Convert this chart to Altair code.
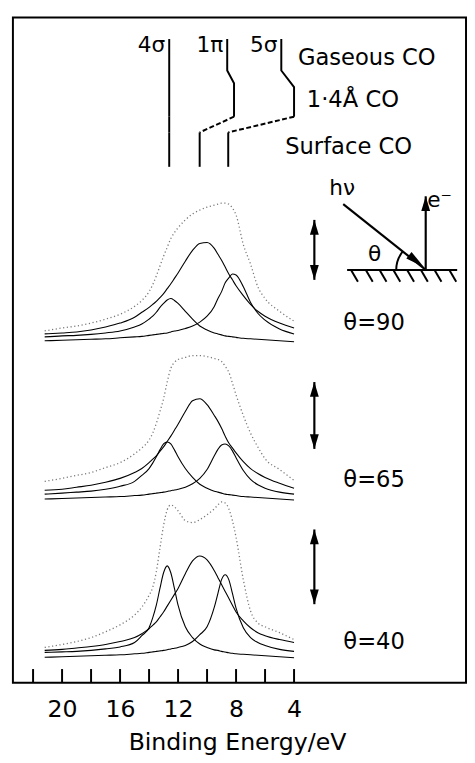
import altair as alt
import pandas as pd

FONT = "DejaVu Sans"

# ---------------- data ----------------
energy = [21.2, 20, 19, 18, 17, 16, 15, 14.5, 14,
          13.75, 13.5, 13.25, 13, 12.75, 12.5, 12.25, 12,
          11.5, 11, 10.5, 10, 9.5,
          9.25, 9, 8.75, 8.5, 8.25, 8,
          7.5, 7, 6.5, 6, 5, 4]

# theta = 90  (heights above the panel baseline)
exp_90 = [12, 15, 17, 20, 24, 29, 37, 43, 52, 59, 68, 78, 88, 97, 106, 112, 117,
          125, 131, 135, 138, 140, 141, 142, 142, 141, 137, 130, 100, 80, 57, 45, 32, 22]
s4_90 = [6, 7, 7.5, 8.5, 10, 12, 16, 19, 24, 27, 31, 36, 40, 43.5, 45, 43, 40,
         32, 24, 17, 13, 10, 9, 8, 7, 6.5, 6, 5.5, 4.5, 4, 3.5, 3, 2, 1]
p1_90 = [9, 10, 11, 13, 16, 20, 26, 31, 36, 39, 42, 46, 50, 55, 60, 65.5, 71,
         83, 94, 101, 102, 96, 90, 84, 77, 70, 64, 58, 48, 39, 32, 27, 20, 15]
s5_90 = [2, 2.5, 3, 3.5, 4, 5, 6, 6.5, 7.5, 8, 8.5, 9, 9.5, 10, 11, 12, 12.5,
         14.5, 17, 21, 27, 37, 45, 52, 61, 66, 70, 69, 57, 41, 30, 23, 14, 9]

# theta = 65
exp_65 = [19, 22, 25, 28, 33, 38, 47, 53, 61, 68, 78, 90, 103, 120, 134, 140, 143,
          145, 147, 147, 146, 144, 143, 141, 136, 130, 119, 107, 86, 68, 54, 42, 31, 20]
s4_65 = [6, 7, 8, 9, 11, 14, 19, 25, 32, 37.5, 44, 51, 57, 59, 57, 51, 44,
         32, 23, 16, 12, 9, 8, 7, 6, 5.5, 5, 4.5, 3.5, 3, 2.5, 2, 1, 0]
p1_65 = [10, 11, 13, 15, 18, 22, 28, 32, 38, 41.5, 45, 49.5, 54, 59.5, 65, 71, 77,
         90, 101, 103, 97, 86, 80, 73, 65, 58, 53, 48, 39, 32, 27, 23, 17, 12]
s5_65 = [1, 1.5, 2, 2.5, 3, 3.5, 4.5, 5, 6, 6.5, 7, 7.5, 8, 8.7, 9.5, 10.2, 11,
         13, 16.5, 22, 31, 45, 51.5, 56, 57, 55, 50, 43, 30, 21, 15.5, 12, 8, 6]

# theta = 40
exp_40 = [11, 14, 17, 21, 27, 34, 44, 52, 64, 72, 88, 112, 135, 151, 156, 154, 150,
          140, 138, 141, 146, 152, 156, 159, 158, 152, 140, 123, 80, 48, 36, 32, 26, 19]
s4_40 = [6, 6.5, 7, 8, 9.5, 11.5, 16, 23, 31, 41, 54, 71, 87, 94, 87, 71, 54,
         32, 21, 14.5, 11, 8.5, 8, 7, 6.3, 5.5, 5, 4.5, 4, 3.5, 3, 2.5, 1.5, 0.5]
p1_40 = [8, 9, 10.5, 12, 14, 17, 21, 25, 30, 33.5, 37, 42, 47, 53, 59, 65, 71,
         86, 99, 104, 100, 89, 82, 75, 68, 61, 54, 47, 38, 31, 26, 23, 19, 16]
s5_40 = [1, 1.5, 2, 2.5, 3, 3.5, 4.5, 5, 6, 6.5, 7, 7.5, 8, 8.7, 9.5, 10.2, 11,
         13, 17, 24, 32, 52, 66, 80, 85, 80, 66, 51, 31, 21, 16, 13, 9, 7]

panels = ["θ=90", "θ=65", "θ=40"]
fit_names = ["4σ", "1π", "5σ"]

# orbital energies (eV) in the level diagram
orbitals = ["4σ", "1π", "5σ"]
gas_E = [12.61, 8.61, 4.88]
mid_E = [12.61, 8.14, 4.00]
surf_E = [12.61, 10.51, 8.54]
row_labels = ["Gaseous CO", "1·4Å CO", "Surface CO"]

tick_E = [22, 20, 18, 16, 14, 12, 10, 8, 6, 4]
label_E = [20, 16, 12, 8, 4]

# ---------------- layout (plot units: 0 = bottom, 677 = top) ----------------
baselines = [346, 186, 25]
GAS_TOP, GAS_BOT = 655, 623
MID_TOP = [610, 610, 606]
MID_BOT = 576
SURF_TOP, SURF_BOT = 560, 525
ROW_E = [3.73, 3.12, 4.61]
ROW_Y = [636, 593, 545]
THETA_E = 0.6
THETA_Y = [366, 206, 41]
DARROW_E = 2.6
DARROW_Y = [(471, 410), (306, 238), (156, 80)]

# ---------------- tables ----------------
exp_sets = [exp_90, exp_65, exp_40]
fit_sets = [[s4_90, p1_90, s5_90], [s4_65, p1_65, s5_65], [s4_40, p1_40, s5_40]]
exp_rows, fit_rows = [], []
for p, base, ex, fits in zip(panels, baselines, exp_sets, fit_sets):
    for e, v in zip(energy, ex):
        exp_rows.append({"panel": p, "E": e, "y": base + v})
    for name, f in zip(fit_names, fits):
        for e, v in zip(energy, f):
            fit_rows.append({"curve": p + name, "E": e, "y": base + v})
exp_df = pd.DataFrame(exp_rows)
fit_df = pd.DataFrame(fit_rows)

solid_rows, dash_rows = [], []
for i, orb in enumerate(orbitals):
    pts = [(gas_E[i], GAS_TOP), (gas_E[i], GAS_BOT), (mid_E[i], MID_TOP[i]), (mid_E[i], MID_BOT)]
    for k, (e, y) in enumerate(pts):
        solid_rows.append({"path": orb + "a", "o": k, "E": e, "y": y})
    for k, (e, y) in enumerate([(surf_E[i], SURF_TOP), (surf_E[i], SURF_BOT)]):
        solid_rows.append({"path": orb + "b", "o": k, "E": e, "y": y})
    conn = [(mid_E[i], MID_BOT), (surf_E[i], SURF_TOP)]
    target = solid_rows if mid_E[i] == surf_E[i] else dash_rows
    for k, (e, y) in enumerate(conn):
        target.append({"path": orb + "c", "o": k, "E": e, "y": y})
solid_df = pd.DataFrame(solid_rows)
dash_df = pd.DataFrame(dash_rows)

orb_lab_df = pd.DataFrame({"E": gas_E, "y": [649] * 3, "t": orbitals})
row_lab_df = pd.DataFrame({"E": ROW_E, "y": ROW_Y, "t": row_labels})
theta_df = pd.DataFrame({"E": [THETA_E] * 3, "y": THETA_Y, "t": panels})
geo_txt_df = pd.DataFrame({"E": [0.68, -6.03, -1.56], "y": [503, 491, 436], "t": ["hν", "e⁻", "θ"]})

tick_df = pd.DataFrame({"E": tick_E, "y": [0] * len(tick_E), "y2": [14] * len(tick_E)})

# geometry sketch (photon, electron, surface)
geo_seg = pd.DataFrame({
    "E": [0.61, -5.08, 0.34], "E2": [-5.02, -5.08, -7.25],
    "y": [487, 421, 420], "y2": [421, 495, 420]})
hatch_top = [0.07, -0.95, -1.90, -2.85, -3.80, -4.75, -5.69, -6.71]
hatch_df = pd.DataFrame({"E": hatch_top, "E2": [h - 0.475 for h in hatch_top],
                         "y": [420] * 8, "y2": [408] * 8})
darrow_df = pd.DataFrame({"E": [DARROW_E] * 3, "y": [a for a, b in DARROW_Y], "y2": [b for a, b in DARROW_Y]})
head_df = pd.DataFrame({
    "E": [-5.08] + [DARROW_E] * 6,
    "y": [495] + [v for ab in DARROW_Y for v in ab],
    "ang": [270] + [270, 90] * 3})
hv_head_df = pd.DataFrame({"E": [-4.95], "y": [423], "ang": [38.5]})
arc_df = pd.DataFrame({"E": [-5.08], "y": [420]})

# ---------------- encodings ----------------
xs = alt.Scale(domain=[-7.86, 23.39], reverse=True, nice=False, zero=False)
ys = alt.Scale(domain=[0, 677], nice=False, zero=False)
xaxis = alt.Axis(values=label_E, format="d", labelFont=FONT, labelFontSize=24, labelColor="black",
                 labelPadding=34, labelBaseline="alphabetic", ticks=False, tickSize=0, domain=False,
                 grid=False, labelFlush=False, labelOverlap=False,
                 titleFont=FONT, titleFontSize=24, titleFontWeight="normal", titleColor="black",
                 titleX=228, titleY=68, titleBaseline="alphabetic", titleAlign="center")
X = alt.X("E:Q", scale=xs, axis=xaxis, title="Binding Energy/eV")
Y = alt.Y("y:Q", scale=ys, axis=None)

layers = []
layers.append(alt.Chart(exp_df).mark_line(color="#777777", strokeWidth=1.3, strokeDash=[1.2, 2.6],
                                          interpolate="monotone").encode(x=X, y=Y, detail="panel:N"))
layers.append(alt.Chart(fit_df).mark_line(color="black", strokeWidth=1.1,
                                          interpolate="monotone").encode(x=X, y=Y, detail="curve:N"))
layers.append(alt.Chart(solid_df).mark_line(color="black", strokeWidth=2).encode(
    x=X, y=Y, detail="path:N", order="o:Q"))
layers.append(alt.Chart(dash_df).mark_line(color="black", strokeWidth=2, strokeDash=[5, 2.5]).encode(
    x=X, y=Y, detail="path:N", order="o:Q"))
layers.append(alt.Chart(tick_df).mark_rule(color="black", strokeWidth=2).encode(x=X, y=Y, y2="y2:Q"))
layers.append(alt.Chart(geo_seg).mark_rule(color="black", strokeWidth=2.2).encode(
    x=X, x2="E2:Q", y=Y, y2="y2:Q"))
layers.append(alt.Chart(hatch_df).mark_rule(color="black", strokeWidth=2).encode(
    x=X, x2="E2:Q", y=Y, y2="y2:Q"))
layers.append(alt.Chart(darrow_df).mark_rule(color="black", strokeWidth=2.2).encode(x=X, y=Y, y2="y2:Q"))
layers.append(alt.Chart(head_df).mark_point(shape="M0,0 L-1,-0.3 L-1,0.3 Z", size=900, filled=True,
                                            color="black", opacity=1).encode(
    x=X, y=Y, angle=alt.Angle("ang:Q", scale=None)))
layers.append(alt.Chart(hv_head_df).mark_point(shape="M0,0 L-1,-0.22 L-1,0.22 Z", size=1500, filled=True,
                                               color="black", opacity=1).encode(
    x=X, y=Y, angle=alt.Angle("ang:Q", scale=None)))
layers.append(alt.Chart(arc_df).mark_arc(color="black", theta=4.712, theta2=5.384, radius=31,
                                         radius2=29).encode(x=X, y=Y))
layers.append(alt.Chart(orb_lab_df).mark_text(font=FONT, fontSize=22, align="right", baseline="middle",
                                              dx=-4, color="black").encode(x=X, y=Y, text="t:N"))
layers.append(alt.Chart(row_lab_df).mark_text(font=FONT, fontSize=23, align="left", baseline="middle",
                                              color="black").encode(x=X, y=Y, text="t:N"))
layers.append(alt.Chart(theta_df).mark_text(font=FONT, fontSize=23, align="left", baseline="middle",
                                            color="black").encode(x=X, y=Y, text="t:N"))
layers.append(alt.Chart(geo_txt_df).mark_text(font=FONT, fontSize=22, align="center", baseline="middle",
                                              color="black").encode(x=X, y=Y, text="t:N"))

chart = alt.layer(*layers).properties(
    width=461, height=677,
    padding={"left": 5, "top": 3, "right": 1, "bottom": 75},
    autosize=alt.AutoSizeParams(type="none"),
    background="white",
).configure_view(stroke="black", strokeWidth=2)

chart.save("out.html", embed_options={"renderer": "svg", "actions": False})
